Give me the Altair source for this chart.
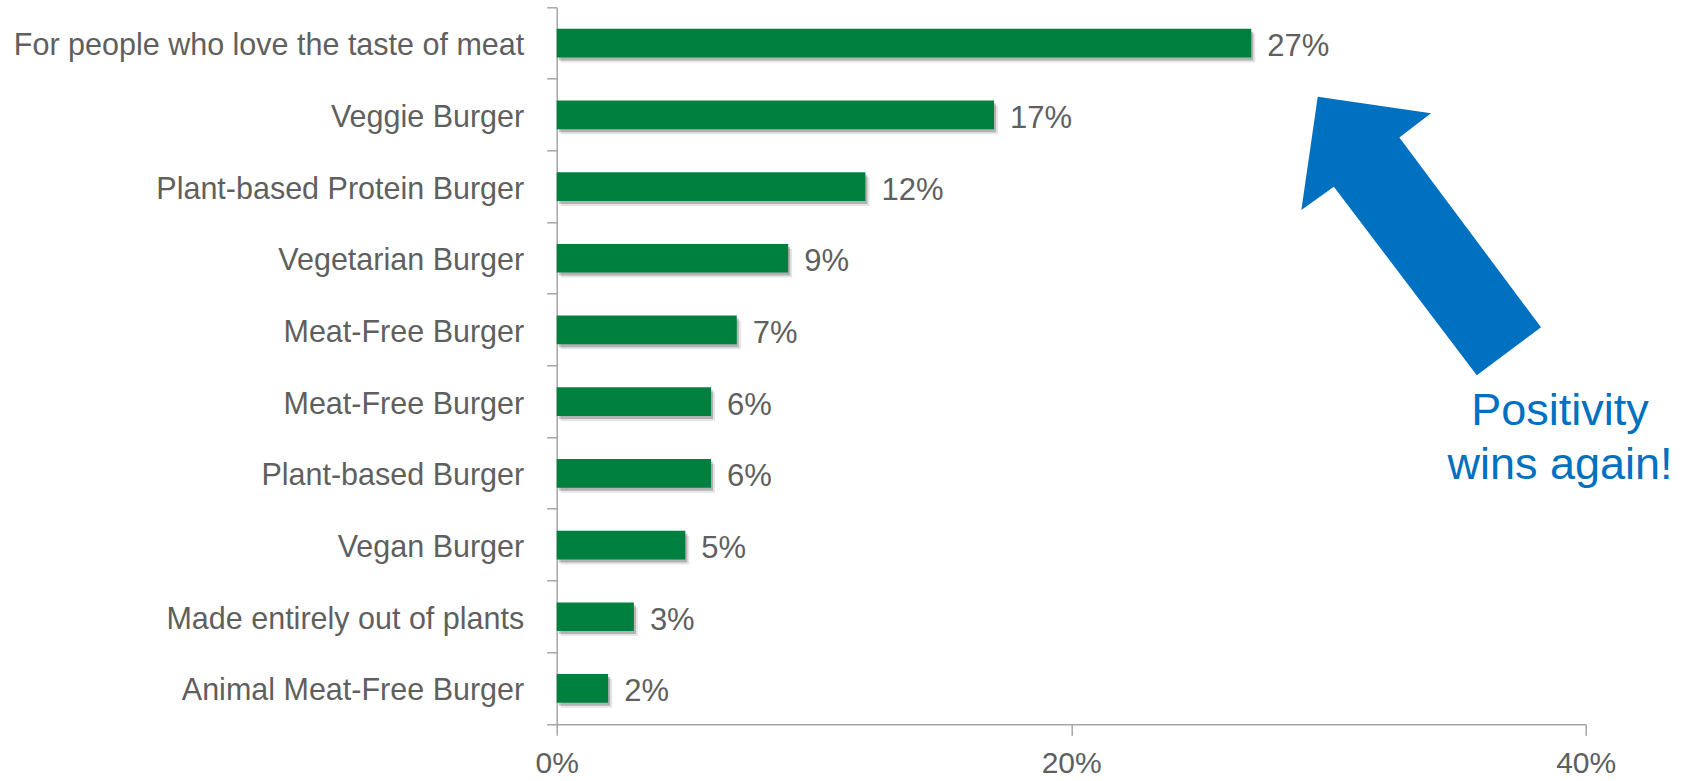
import json
import altair as alt
import pandas as pd

# ---- data ----
categories = [
    "For people who love the taste of meat",
    "Veggie Burger",
    "Plant-based Protein Burger",
    "Vegetarian Burger",
    "Meat-Free Burger",
    "Meat-Free Burger",
    "Plant-based Burger",
    "Vegan Burger",
    "Made entirely out of plants",
    "Animal Meat-Free Burger",
]
values = [27, 17, 12, 9, 7, 6, 6, 5, 3, 2]
x_ticks = [0, 20, 40]
note_lines = ["Positivity", "wins again!"]

GREEN = "#00803F"
BLUE = "#0070C0"
GRAY_TXT = "#5F5F5F"
GRAY_AX = "#A6A6A6"
FONT = "Liberation Sans"

df = pd.DataFrame({"rank": list(range(len(categories))), "name": categories, "value": values})
label_expr = json.dumps(categories) + "[datum.value]"

x_enc = alt.X(
    "value:Q",
    scale=alt.Scale(domain=[0, 40], nice=False, zero=True),
    axis=alt.Axis(
        title=None, values=x_ticks, labelExpr="datum.value + '%'", grid=False,
        labelFlush=False, labelAlign="center",
        tickSize=11, tickColor=GRAY_AX, tickWidth=1.5, domainColor=GRAY_AX, domainWidth=1.5,
        labelFont=FONT, labelFontSize=30, labelColor=GRAY_TXT, labelPadding=13,
    ),
)
y_enc = alt.Y(
    "rank:O",
    sort="ascending",
    scale=alt.Scale(paddingInner=0, paddingOuter=0),
    axis=alt.Axis(
        title=None, labelExpr=label_expr, bandPosition=1, tickExtra=True,
        tickSize=10, tickColor=GRAY_AX, tickWidth=1.5, domainColor=GRAY_AX, domainWidth=1.5,
        labelFont=FONT, labelFontSize=30.5, labelColor=GRAY_TXT, labelPadding=23,
        labelAlign="right", labelBaseline="middle", labelLimit=0, labelOffset=3,
    ),
)

base = alt.Chart(df)
shadow1 = base.mark_bar(height=alt.RelativeBandSize(0.4), color="#000000", opacity=0.10,
                        xOffset=4, yOffset=5).encode(x=x_enc, y=y_enc)
shadow2 = base.mark_bar(height=alt.RelativeBandSize(0.4), color="#000000", opacity=0.22,
                        xOffset=2, yOffset=3).encode(x=x_enc, y=y_enc)
bars = base.mark_bar(height=alt.RelativeBandSize(0.4), color=GREEN).encode(x=x_enc, y=y_enc)
labels = base.transform_calculate(lab="datum.value + '%'").mark_text(
    align="left", baseline="middle", dx=16, dy=4, font=FONT, fontSize=31, color=GRAY_TXT
).encode(x=x_enc, y=y_enc, text="lab:N")

one = pd.DataFrame({"k": [0]})
arrow_path = ("M -0.738 -0.995 L 0.071 -0.876 L -0.155 -0.704 L 0.857 0.652 "
              "L 0.398 0.995 L -0.623 -0.352 L -0.855 -0.186 Z")
arrow = alt.Chart(one).mark_point(
    shape=arrow_path, size=78400, filled=True, color=BLUE, opacity=1, strokeWidth=0
).encode(x=alt.datum(33.6), y=alt.value(228.7))

note = alt.Chart(one).mark_text(
    text=note_lines, align="center", baseline="alphabetic", lineHeight=54,
    font=FONT, fontSize=45, color=BLUE
).encode(x=alt.datum(39.0), y=alt.value(418))

chart = alt.layer(shadow1, shadow2, bars, labels, arrow, note).properties(
    width=1029, height=717,
    autosize=alt.AutoSizeParams(type="none"),
    padding={"left": 556.7, "top": 7.3, "right": 98.3, "bottom": 56.7},
    background="white",
).configure_view(stroke=None)

chart.save("out.html", embed_options={"renderer": "svg", "actions": False})
